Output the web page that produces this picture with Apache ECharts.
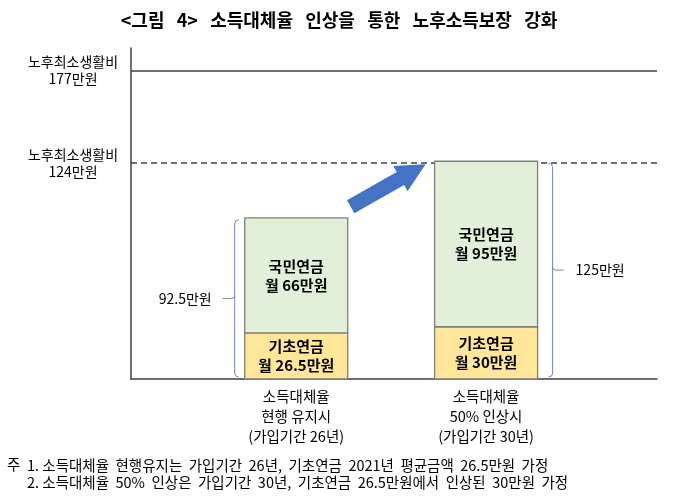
<!DOCTYPE html>
<html>
<head>
<meta charset="utf-8">
<script src="https://cdn.jsdelivr.net/npm/echarts@6/dist/echarts.min.js"></script>
<style>
  html, body { margin: 0; padding: 0; background: #fff; }
  #main { width: 678px; height: 504px; }
</style>
</head>
<body>
<div id="main"></div>
<script>
// 데이터
const categories = ['소득대체율\n현행 유지시\n(가입기간 26년)', '소득대체율\n50% 인상시\n(가입기간 30년)']
const basicPension = [26.5, 30]      // 기초연금
const nationalPension = [66, 95]     // 국민연금
const totals = [92.5, 125]           // 합계
const refLines = [177, 124]          // 노후최소생활비
const refNames = ['노후최소생활비\n177만원', '노후최소생활비\n124만원']
const notes = [
  '1. 소득대체율  현행유지는  가입기간  26년,  기초연금  2021년  평균금액  26.5만원  가정',
  '2. 소득대체율  50%  인상은  가입기간  30년,  기초연금  26.5만원에서  인상된  30만원  가정'
]

const FONT = '"Noto Sans CJK KR", "Noto Sans", sans-serif'
const BAR_W = 103

const myChart = echarts.init(document.querySelector('#main'))

// 누적 막대 (x, 시작값, 값)
function makeBarRender(fill, name) {
  return function (params, api) {
    const x = api.value(0), base = api.value(1), v = api.value(2)
    const p0 = api.coord([x, base])
    const p1 = api.coord([x, base + v])
    return {
      type: 'group',
      children: [
        {
          type: 'rect',
          shape: { x: p0[0] - BAR_W / 2, y: p1[1], width: BAR_W, height: p0[1] - p1[1] },
          style: { fill: fill, stroke: '#7f7f7f', lineWidth: 1.3 }
        },
        {
          type: 'text',
          style: {
            text: name + '\n월 ' + v + '만원',
            x: p0[0], y: (p0[1] + p1[1]) / 2,
            align: 'center', verticalAlign: 'middle',
            fontSize: 15, fontWeight: 'bold', lineHeight: 19,
            fontFamily: FONT, fill: '#000'
          }
        }
      ]
    }
  }
}

// 중괄호 그리기
function renderBrace(params, api) {
  const i = params.dataIndex
  const top = api.coord([api.value(0), api.value(1)])
  const bot = api.coord([api.value(0), 0])
  const mid = (top[1] + bot[1]) / 2
  const ty = top[1] + 2
  const by = bot[1] - 2
  let path, tx, align
  if (i === 0) {
    const bx = top[0] - BAR_W / 2 - 10
    path = `M${bx + 4} ${ty} Q${bx} ${ty} ${bx} ${ty + 4} L${bx} ${by - 4} Q${bx} ${by} ${bx + 4} ${by}` +
      ` M${bx} ${mid - 3} Q${bx} ${mid} ${bx - 3} ${mid} L${bx - 12} ${mid}`
    tx = bx - 23
    align = 'right'
  } else {
    const bx = top[0] + BAR_W / 2 + 15
    path = `M${bx - 4} ${ty} Q${bx} ${ty} ${bx} ${ty + 4} L${bx} ${by - 4} Q${bx} ${by} ${bx - 4} ${by}` +
      ` M${bx} ${mid - 3} Q${bx} ${mid} ${bx + 3} ${mid} L${bx + 11} ${mid}`
    tx = bx + 23
    align = 'left'
  }
  return {
    type: 'group',
    children: [
      { type: 'path', shape: { pathData: path }, style: { fill: 'none', stroke: '#7487aa', lineWidth: 1 } },
      {
        type: 'text',
        style: {
          text: api.value(1) + '만원', x: tx, y: mid, align: align, verticalAlign: 'middle',
          fontSize: 14, fontFamily: FONT, fill: '#000'
        }
      }
    ]
  }
}

// 화살표 그리기
function renderArrow(params, api) {
  const a = api.coord([api.value(0), api.value(1)])
  const b = api.coord([api.value(2), api.value(3)])
  const tail = [a[0] + BAR_W / 2 + 3, a[1] - 11]
  const tip = [b[0] - BAR_W / 2 - 9, b[1] + 3]
  const dx = tip[0] - tail[0], dy = tip[1] - tail[1]
  const len = Math.sqrt(dx * dx + dy * dy)
  const u = [dx / len, dy / len]
  const n = [-u[1], u[0]]
  const hw = 7.5, HW = 14.5, HL = 29
  const base = [tip[0] - u[0] * HL, tip[1] - u[1] * HL]
  const p = (o, k) => [o[0] + n[0] * k, o[1] + n[1] * k]
  return {
    type: 'polygon',
    shape: { points: [p(tail, hw), p(base, hw), p(base, HW), tip, p(base, -HW), p(base, -hw), p(tail, -hw)] },
    style: { fill: '#4472c4' }
  }
}

const option = {
  animation: false,
  title: {
    text: '<그림   4>   소득대체율   인상을   통한   노후소득보장   강화',
    left: 'center',
    top: 6,
    textStyle: { fontSize: 18, fontWeight: 'bold', color: '#000', fontFamily: FONT }
  },
  grid: { left: 131, right: 21, top: 48, bottom: 125 },
  xAxis: {
    type: 'value',
    min: 0.13,
    max: 2.9,
    splitLine: { show: false },
    axisTick: { show: false },
    axisLine: { show: true, lineStyle: { color: '#404040', width: 1.5 } },
    axisLabel: {
      customValues: [1, 2],
      formatter: v => categories[Math.round(v) - 1],
      fontSize: 14.5,
      lineHeight: 20,
      margin: 7,
      color: '#000',
      fontFamily: FONT
    }
  },
  yAxis: {
    type: 'value',
    min: 0,
    max: 190,
    splitLine: { show: false },
    axisTick: { show: false },
    axisLine: { show: true, lineStyle: { color: '#404040', width: 1.5 } },
    axisLabel: {
      customValues: refLines,
      formatter: v => refNames[refLines.indexOf(v)],
      align: 'center',
      margin: 58,
      fontSize: 14,
      lineHeight: 17,
      color: '#000',
      fontFamily: FONT
    }
  },
  series: [
    {
      name: '노후최소생활비',
      type: 'line',
      z: 1,
      data: [],
      markLine: {
        silent: true,
        symbol: ['none', 'none'],
        label: { show: false },
        lineStyle: { color: '#404040', width: 1.5 },
        data: refLines.map((v, i) => ({
          yAxis: v,
          lineStyle: { type: i === 0 ? 'solid' : [6, 4] }
        }))
      }
    },
    {
      name: '기초연금',
      type: 'custom',
      z: 5,
      silent: true,
      renderItem: makeBarRender('#ffe699', '기초연금'),
      data: basicPension.map((v, i) => [i + 1, 0, v])
    },
    {
      name: '국민연금',
      type: 'custom',
      z: 5,
      silent: true,
      renderItem: makeBarRender('#e2f0d9', '국민연금'),
      data: nationalPension.map((v, i) => [i + 1, basicPension[i], v])
    },
    {
      name: '합계',
      type: 'custom',
      z: 5,
      silent: true,
      renderItem: renderBrace,
      data: totals.map((v, i) => [i + 1, v])
    },
    {
      name: '화살표',
      type: 'custom',
      z: 6,
      silent: true,
      renderItem: renderArrow,
      data: [[1, totals[0], 2, totals[1]]]
    }
  ],
  graphic: [
    {
      type: 'text', left: 7, top: 457,
      style: { text: '주', fontSize: 14.5, fill: '#000', fontFamily: FONT }
    },
    {
      type: 'text', left: 27, top: 457,
      style: { text: notes.join('\n'), fontSize: 14.5, lineHeight: 17, fill: '#000', fontFamily: FONT }
    }
  ]
}

myChart.setOption(option)
</script>
</body>
</html>
